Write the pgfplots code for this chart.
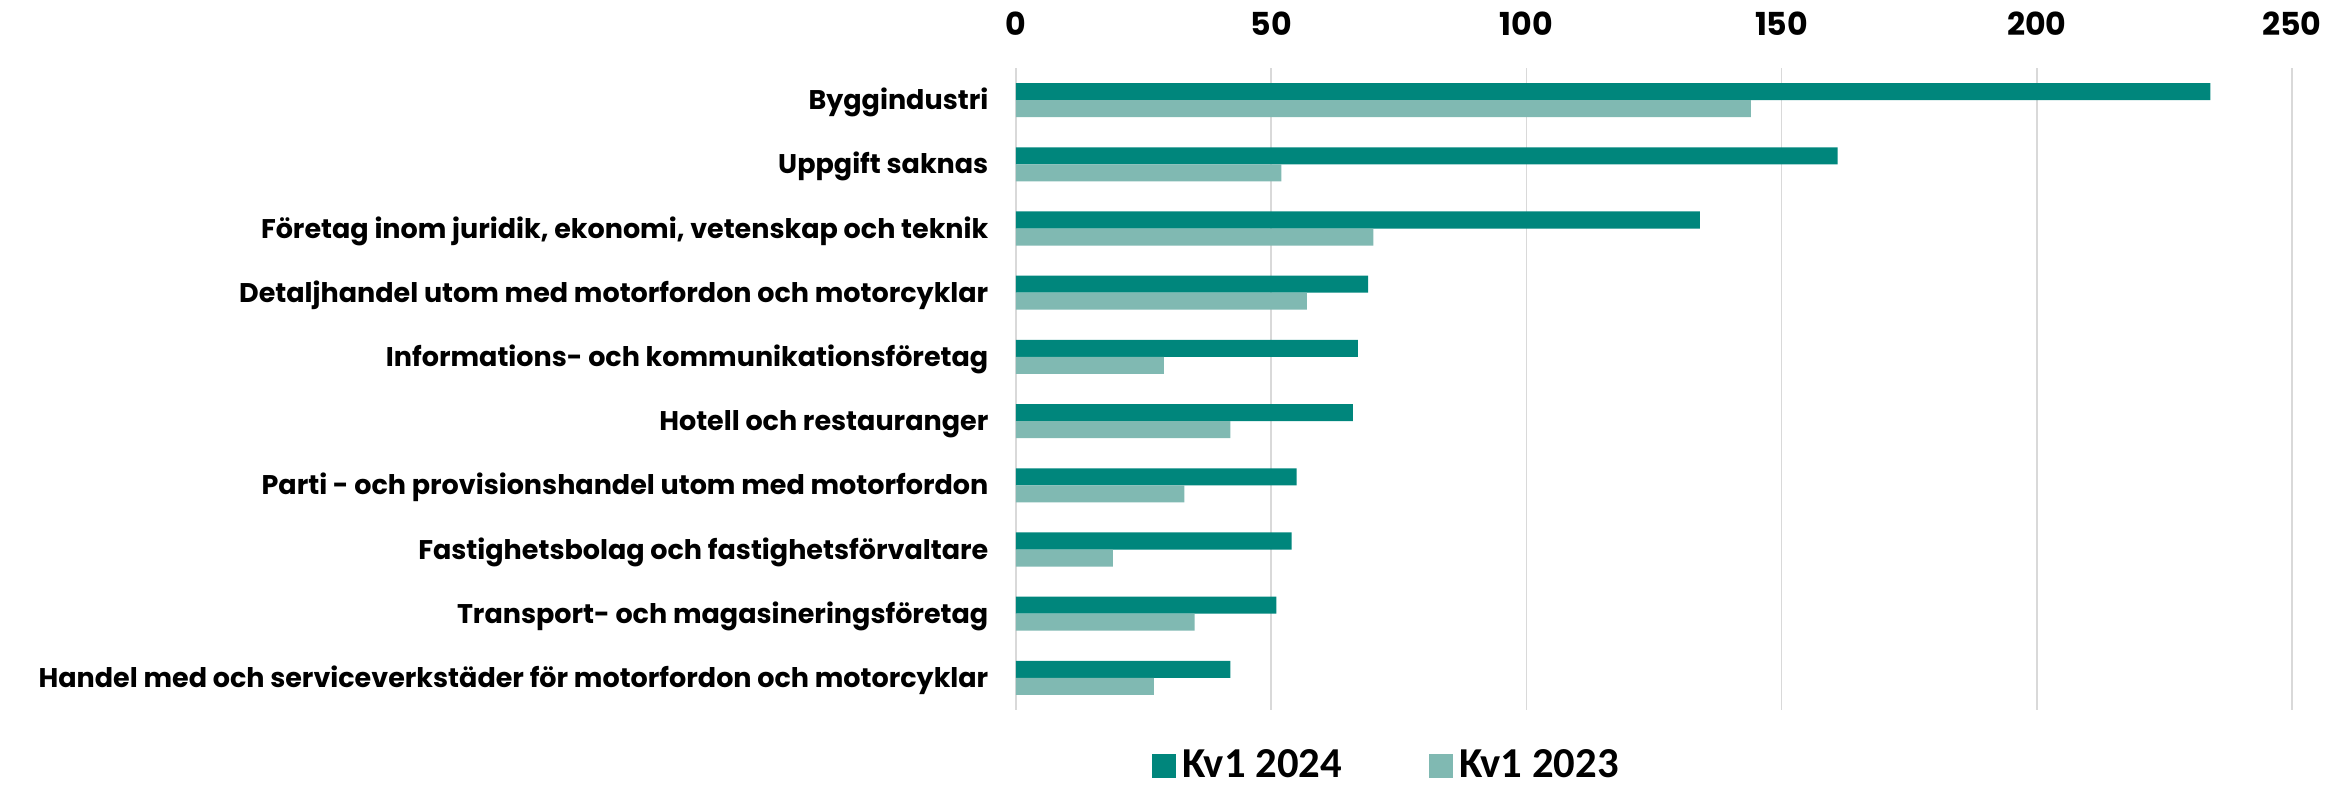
\documentclass[border=0pt]{standalone}
\usepackage{pgfplots}
\pgfplotsset{compat=1.18}
\usepackage{fontspec}
\setmainfont{Poppins}
\newfontfamily\legfont{Carlito}

\definecolor{teal24}{RGB}{0,134,124}
\definecolor{teal23}{RGB}{128,185,178}
\definecolor{gridgray}{RGB}{217,217,217}

\begin{document}
\begin{tikzpicture}
% page frame, 1 px of the reference = 0.3pt
\useasboundingbox (-304.8pt,-22.5pt) rectangle (399.6pt,213pt);
\begin{axis}[
    xbar,
    scale only axis,
    width=382.8pt,
    height=192.6pt,
    xmin=0, xmax=250,
    ymin=-0.5, ymax=9.5,
    y dir=reverse,
    bar width=0.265,
    xtick={0,50,...,250},
    xticklabel pos=top,
    ytick={0,...,9},
    yticklabels={Byggindustri,
        Uppgift saknas,
        {Företag inom juridik, ekonomi, vetenskap och teknik},
        Detaljhandel utom med motorfordon och motorcyklar,
        Informations- och kommunikationsföretag,
        Hotell och restauranger,
        Parti - och provisionshandel utom med motorfordon,
        Fastighetsbolag och fastighetsförvaltare,
        Transport- och magasineringsföretag,
        Handel med och serviceverkstäder för motorfordon och motorcyklar},
    axis line style={draw=none},
    major tick length=0pt,
    xmajorgrids,
    grid style={gridgray, line width=0.5pt},
    /pgf/number format/assume math mode=true,
    xticklabel style={font=\fontsize{9.5}{10}\bfseries, anchor=south, inner sep=0pt, yshift=9.6pt},
    yticklabel style={font=\fontsize{8.1}{9}\bfseries, anchor=base east, inner sep=0pt, xshift=-8.1pt, yshift=-2.9pt},
    legend style={at={(0.292,-0.087)}, anchor=center, draw=none, fill=none,
        legend columns=2, font=\legfont\bfseries\fontsize{12.8}{13.5}\selectfont,
        /tikz/every even column/.append style={column sep=24pt}},
    legend image code/.code={\fill[#1] (0pt,-3.6pt) rectangle (7.2pt,3.6pt);},
]
\addplot[fill=teal24, draw=none, bar shift=-0.1325] coordinates {
    (234,0) (161,1) (134,2) (69,3) (67,4)
    (66,5) (55,6) (54,7) (51,8) (42,9)
};
\addplot[fill=teal23, draw=none, bar shift=0.1325] coordinates {
    (144,0) (52,1) (70,2) (57,3) (29,4)
    (42,5) (33,6) (19,7) (35,8) (27,9)
};
\legend{Kv1 2024, Kv1 2023}
\end{axis}
\end{tikzpicture}
\end{document}
